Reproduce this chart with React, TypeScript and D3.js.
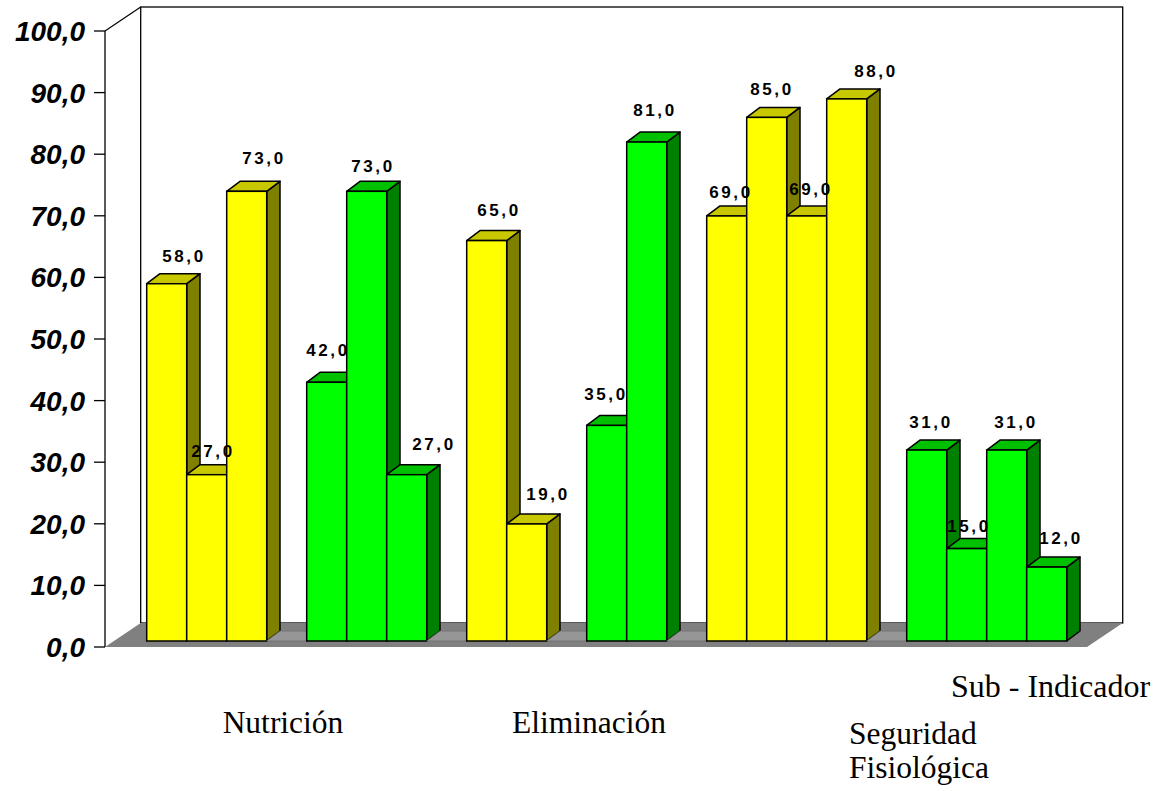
import React from 'react';
import * as d3 from 'd3';

// ---------- data ----------
const groupValues: number[][] = [
  [58, 27, 73],
  [42, 73, 27],
  [65, 19],
  [35, 81],
  [69, 85, 69, 88],
  [31, 15, 31, 12],
];
const groupSeries: string[] = ['amarillo', 'verde', 'amarillo', 'verde', 'amarillo', 'verde'];
const categories: string[][] = [['Nutrición'], ['Eliminación'], ['Seguridad', 'Fisiológica']];
const yTicks: number[] = [0, 10, 20, 30, 40, 50, 60, 70, 80, 90, 100];
const axisTitle = 'Sub - Indicador';

// ---------- layout / style ----------
const W = 1161;
const H = 791;
const palette: Record<string, { front: string; top: string; side: string }> = {
  amarillo: { front: '#FFFF00', top: '#C8C800', side: '#808000' },
  verde: { front: '#00FF00', top: '#00C000', side: '#008000' },
};
// label nudges (relative to bar front centre / top)
const labelDx = [16, 5, 16, 0, 5, 26, 11, 20, -2, 7, 3, 4, 3, 28, 3, 1, 8, 13];
const labelDy = [-22, -18, -27, -26, -19, -25, -25, -24, -25, -26, -18, -22, -21, -22, -22, -17, -22, -23];

const fmt = (v: number) => d3.format('.1f')(v).replace('.', ',');

export default function App() {
  type Slot = { slot: number; value: number | null; series: string | null };
  const slots: Slot[] = [];
  groupValues.forEach((vals, gi) => {
    vals.forEach((v) => slots.push({ slot: slots.length, value: v, series: groupSeries[gi] }));
    if (gi < groupValues.length - 1) slots.push({ slot: slots.length, value: null, series: null });
  });

  const x = d3.scaleBand<number>().domain(d3.range(slots.length)).range([146.7, 1066.7]).padding(0);
  const y = d3.scaleLinear().domain([0, 100]).range([647, 31]);

  const floorLeft = 105;
  const floorRight = 1087;
  const fdx = 35.7;
  const fdy = 24;
  const barShiftY = 6;
  const bdx = 13.3;
  const bdy = 10;

  const base = y(0) - barShiftY;
  const top100 = y(100);

  const catX = d3.scalePoint<number>().domain(d3.range(categories.length)).range([283, 895]);

  let barIdx = -1;
  const barEls: React.ReactNode[] = [];
  const labelEls: React.ReactNode[] = [];
  slots.forEach((s) => {
    const x0 = x(s.slot)!;
    const x1 = x0 + x.bandwidth();
    if (s.value === null) {
      const pts = [
        [x0, base],
        [x1, base],
        [x1 + bdx, base - bdy],
        [x0 + bdx, base - bdy],
      ];
      barEls.push(
        <polygon key={'z' + s.slot} points={pts.map((p) => p.join(',')).join(' ')} fill="#969696" stroke="#6e6e6e" strokeWidth={0.8} />
      );
      return;
    }
    barIdx += 1;
    const bi = barIdx;
    const c = palette[s.series!];
    const yt = y(s.value) - barShiftY;
    const side = [
      [x1, base],
      [x1 + bdx, base - bdy],
      [x1 + bdx, yt - bdy],
      [x1, yt],
    ];
    const topF = [
      [x0, yt],
      [x1, yt],
      [x1 + bdx, yt - bdy],
      [x0 + bdx, yt - bdy],
    ];
    const cx = (x0 + x1) / 2 + labelDx[bi] + 1.3;
    barEls.push(
      <g key={'b' + s.slot}>
        <polygon points={side.map((p) => p.join(',')).join(' ')} fill={c.side} stroke="#000" strokeWidth={1.5} strokeLinejoin="round" />
        <polygon points={topF.map((p) => p.join(',')).join(' ')} fill={c.top} stroke="#000" strokeWidth={1.5} strokeLinejoin="round" />
        <rect x={x0} y={yt} width={x1 - x0} height={base - yt} fill={c.front} stroke="#000" strokeWidth={1.5} />
      </g>
    );
    labelEls.push(
      <text
        key={'l' + s.slot}
        x={cx}
        y={yt + labelDy[bi]}
        textAnchor="middle"
        fontFamily="'Liberation Sans', Arial, sans-serif"
        fontWeight="bold"
        fontSize={17}
        letterSpacing={2.6}
        fill="#000"
      >
        {fmt(s.value)}
      </text>
    );
  });

  const floorPts = [
    [floorLeft, y(0)],
    [floorLeft + fdx, y(0) - fdy],
    [floorRight + fdx, y(0) - fdy],
    [floorRight, y(0)],
  ];

  const serif = "'Liberation Serif', 'Times New Roman', serif";

  return (
    <svg width={W} height={H} style={{ position: 'absolute', left: 0, top: 0, background: '#fff' }}>
      <rect x={floorLeft + fdx} y={top100 - fdy} width={floorRight - floorLeft} height={y(0) - top100} fill="#fff" stroke="#000" strokeWidth={1.3} />
      <line x1={floorLeft} y1={top100} x2={floorLeft + fdx} y2={top100 - fdy} stroke="#000" strokeWidth={1.2} />
      <polygon points={floorPts.map((p) => p.join(',')).join(' ')} fill="#808080" />
      <line x1={floorLeft} y1={top100} x2={floorLeft} y2={y(0)} stroke="#000" strokeWidth={1.3} />
      {yTicks.map((t) => (
        <g key={'t' + t}>
          <line x1={94} x2={floorLeft} y1={y(t)} y2={y(t)} stroke="#000" strokeWidth={1.3} />
          <text
            x={85}
            y={y(t) + 10}
            textAnchor="end"
            fontFamily="'Liberation Sans', Arial, sans-serif"
            fontWeight="bold"
            fontStyle="italic"
            fontSize={28}
            fill="#000"
          >
            {fmt(t)}
          </text>
        </g>
      ))}
      {barEls}
      {labelEls}
      {categories.map((lines, i) =>
        lines.length === 1 ? (
          <text key={'c' + i} x={catX(i)!} y={733} textAnchor="middle" fontFamily={serif} fontSize={31.5} fill="#000">
            {lines[0]}
          </text>
        ) : (
          <text key={'c' + i} x={catX(i)! - 46} y={744} textAnchor="start" fontFamily={serif} fontSize={31.5} fill="#000">
            {lines.map((l, j) => (
              <tspan key={j} x={catX(i)! - 46} dy={j === 0 ? 0 : 34}>
                {l}
              </tspan>
            ))}
          </text>
        )
      )}
      <text x={951} y={697} textAnchor="start" fontFamily={serif} fontSize={32} fill="#000">
        {axisTitle}
      </text>
    </svg>
  );
}
